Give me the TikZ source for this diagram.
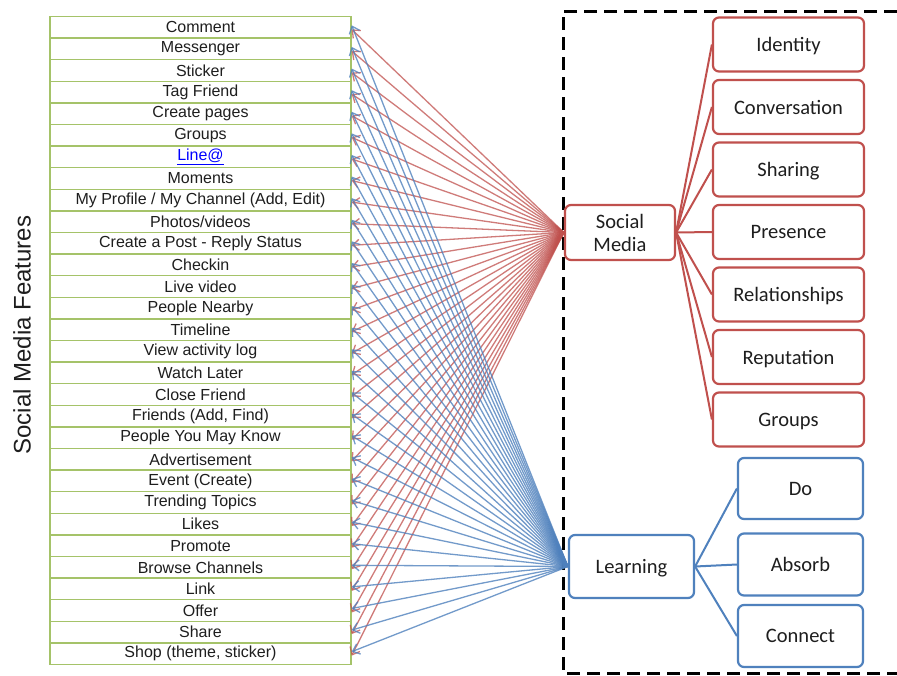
\documentclass[tikz,border=0pt]{standalone}
\usepackage{fontspec}
\setmainfont{Liberation Sans}
\newfontfamily\calfont{Carlito}
\usetikzlibrary{arrows.meta}
\definecolor{smred}{RGB}{192,80,77}
\definecolor{lblue}{RGB}{79,129,189}
\definecolor{lgreen}{RGB}{165,195,105}
\definecolor{txt}{RGB}{30,30,30}
\tikzset{
  feat/.style={draw=lgreen, line width=1.3pt, minimum width=301pt, minimum height=21.6pt,
    inner sep=0pt, text=txt, font=\fontsize{16}{18}\selectfont},
  redbox/.style={draw=smred, line width=2.2pt, rounded corners=6pt, align=center,
    inner sep=0pt, text=txt, font=\calfont\fontsize{20.5}{23}\selectfont},
  bluebox/.style={redbox, draw=lblue},
  oneline/.style={text depth=0pt},
  redlink/.style={draw=smred, line width=2pt},
  bluelink/.style={draw=lblue, line width=2pt},
  redarr/.style={draw=smred, opacity=0.75, line width=1.3pt, -{Straight Barb[length=6.5pt,width=11pt]}},
  bluearr/.style={draw=lblue, opacity=0.8, line width=1.3pt, -{Straight Barb[length=6.5pt,width=11pt]}},
  frame/.style={draw=black, line width=3pt, dash pattern=on 13pt off 7pt}
}
\begin{document}
\begin{tikzpicture}[x=1pt,y=-1pt]
\useasboundingbox (0,0) rectangle (897,675);
\fill[white] (0,0) rectangle (897,675);

% feature list
\foreach \t [count=\i] in {Comment, Messenger, Sticker, Tag Friend, Create pages, Groups,
  {{\color{blue}\underline{Line@}}}, Moments, {My Profile / My Channel (Add, Edit)}, Photos/videos,
  Create a Post - Reply Status, Checkin, Live video, People Nearby, Timeline, View activity log,
  Watch Later, Close Friend, {Friends (Add, Find)}, People You May Know, Advertisement,
  Event (Create), Trending Topics, Likes, Promote, Browse Channels, Link, Offer, Share,
  {Shop (theme, sticker)}}
  \node[feat] (f\i) at (200.5, {16.5+21.6*(\i-0.5)}) {\t};

\node[rotate=90, text=txt, font=\fontsize{24}{27}\selectfont] (title) at (22,335) {Social Media Features};

% dashed frame
\draw[frame] (897,11) -- (563,11) -- (563,673) -- (897,673);

% right nodes
\node[redbox, minimum width=110pt, minimum height=55pt] (sm) at (620,232.5) {Social\\Media};
\node[redbox, oneline, minimum width=151pt, minimum height=54pt] (id) at (788.5,44.5) {Identity};
\node[redbox, oneline, minimum width=151pt, minimum height=54pt] (cv) at (788.5,107) {Conversation};
\node[redbox, oneline, minimum width=151pt, minimum height=54pt] (sh) at (788.5,169.5) {Sharing};
\node[redbox, oneline, minimum width=151pt, minimum height=54pt] (pr) at (788.5,232) {Presence};
\node[redbox, oneline, minimum width=151pt, minimum height=54pt] (rl) at (788.5,294.5) {Relationships};
\node[redbox, oneline, minimum width=151pt, minimum height=54pt] (rp) at (788.5,357) {Reputation};
\node[redbox, oneline, minimum width=151pt, minimum height=54pt] (gr) at (788.5,419.5) {Groups};

\node[bluebox, oneline, minimum width=125pt, minimum height=63pt] (lr) at (631.5,566.5) {Learning};
\node[bluebox, oneline, minimum width=125pt, minimum height=61pt] (do) at (800.5,488.5) {Do};
\node[bluebox, oneline, minimum width=125pt, minimum height=62pt] (ab) at (800.5,564.5) {Absorb};
\node[bluebox, oneline, minimum width=125pt, minimum height=62pt] (cn) at (800.5,636) {Connect};

\foreach \n in {id,cv,sh,pr,rl,rp,gr}
  \draw[redlink] (sm.east) -- (\n.west);
\foreach \n in {do,ab,cn}
  \draw[bluelink] (lr.east) -- (\n.west);

% arrows to features
\foreach \i in {1,...,30}
  \draw[redarr] (sm.west) -- ([yshift=-2pt]f\i.east);
\foreach \i in {1,...,30}
  \draw[bluearr] (lr.west) -- ([yshift=2pt]f\i.east);
\end{tikzpicture}
\end{document}
